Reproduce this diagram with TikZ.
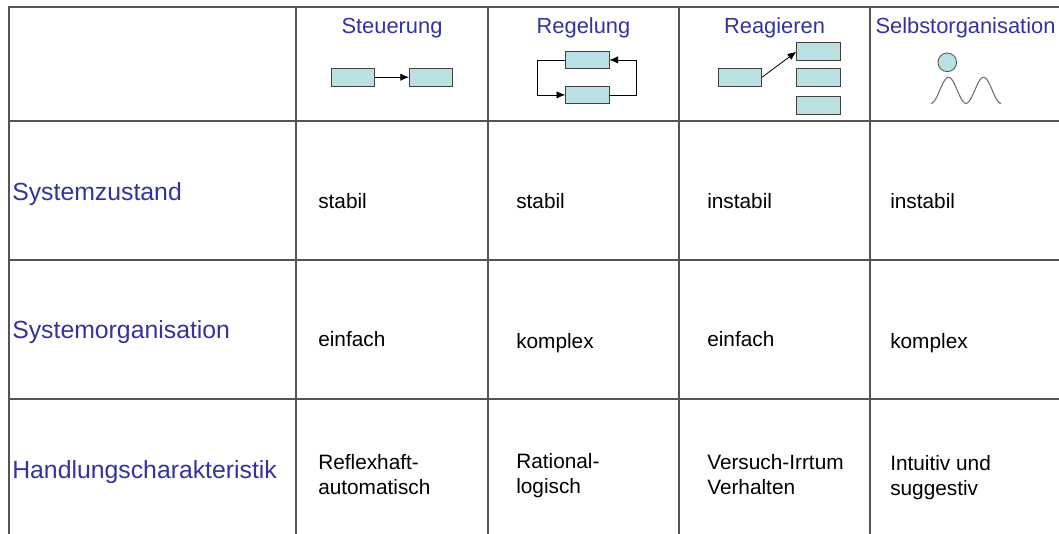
\documentclass[tikz,border=0pt]{standalone}
\usepackage{fontspec}
\setmainfont{Liberation Sans}
\usetikzlibrary{arrows.meta}
\definecolor{lbl}{RGB}{51,51,160}
\definecolor{boxfill}{RGB}{187,224,227}
\definecolor{gridc}{RGB}{85,85,85}
\definecolor{wavec}{RGB}{110,110,110}
\begin{document}
\begin{tikzpicture}[x=0.75pt,y=-0.75pt,
  grid/.style={draw=gridc, line width=0.9pt},
  rowlabel/.style={anchor=base west, inner sep=0, text=lbl, font=\fontsize{18.6}{22}\selectfont},
  header/.style={anchor=base, inner sep=0, text=lbl, font=\fontsize{16.4}{20}\selectfont},
  cell/.style={anchor=base west, inner sep=0, align=left, font=\fontsize{15.6}{18.75}\selectfont},
  ibox/.style={draw=black!75, fill=boxfill, line width=0.6pt, minimum width=32.5pt, minimum height=13.3pt, inner sep=0},
  iarrow/.style={draw=black, line width=0.6pt, -{Latex[length=6.5pt,width=5.5pt]}},
]
\useasboundingbox (0,0) rectangle (1059,533);
% table grid
\draw[grid] (9,540) -- (9,7) -- (1070,7);
\foreach \y in {121,260,399} \draw[grid] (9,\y) -- (1070,\y);
\foreach \x in {296,488,679,870} \draw[grid] (\x,7) -- (\x,540);
% headers
\node[header] (h1) at (392,33) {Steuerung};
\node[header] (h2) at (583.5,33) {Regelung};
\node[header] (h3) at (774.5,33) {Reagieren};
\node[header] (h4) at (965.5,33) {Selbstorganisation};
% row labels
\node[rowlabel] (l1) at (12,200) {Systemzustand};
\node[rowlabel] (l2) at (12,338) {Systemorganisation};
\node[rowlabel] (l3) at (12,478) {Handlungscharakteristik};
% row 1
\node[cell] (c11) at (318,208) {stabil};
\node[cell] (c12) at (516,208) {stabil};
\node[cell] (c13) at (707,208) {instabil};
\node[cell] (c14) at (890,208) {instabil};
% row 2
\node[cell] (c21) at (318,346) {einfach};
\node[cell] (c22) at (516,348) {komplex};
\node[cell] (c23) at (707,346) {einfach};
\node[cell] (c24) at (890,348) {komplex};
% row 3 (anchor = baseline of last line)
\node[cell] (c31) at (318,494) {Reflexhaft-\\automatisch};
\node[cell] (c32) at (516,493) {Rational-\\logisch};
\node[cell] (c33) at (707,494.5) {Versuch-Irrtum\\Verhalten};
\node[cell] (c34) at (890,495) {Intuitiv und\\suggestiv};
% icon Steuerung
\node[ibox] (s1) at (352.7,77.2) {};
\node[ibox] (s2) at (431,77.2) {};
\draw[iarrow] (s1) -- (s2);
% icon Regelung
\node[ibox] (r1) at (587.3,59.9) {};
\node[ibox] (r2) at (587.3,94.9) {};
\draw[iarrow] (r1.west) -- ++(-27.6,0) |- (r2.west);
\draw[iarrow] (r2.east) -- ++(27.4,0) |- (r1.east);
% icon Reagieren
\node[ibox] (a0) at (740,77.2) {};
\node[ibox] (a1) at (818.3,51.7) {};
\node[ibox] (a2) at (818.3,77.2) {};
\node[ibox] (a3) at (818.3,105.3) {};
\draw[iarrow] (a0.east) -- (a1.west);
% icon Selbstorganisation
\node[circle, draw=black!70, fill=boxfill, line width=0.6pt, minimum size=14pt, inner sep=0] (so) at (947.3,62.3) {};
\begin{scope}[shift={(931,90.3)}]
\draw[wavec, line width=0.8pt] plot[domain=0:70, samples=90, smooth] (\x, {13*cos(10.2857*\x)});
\end{scope}
\end{tikzpicture}
\end{document}
